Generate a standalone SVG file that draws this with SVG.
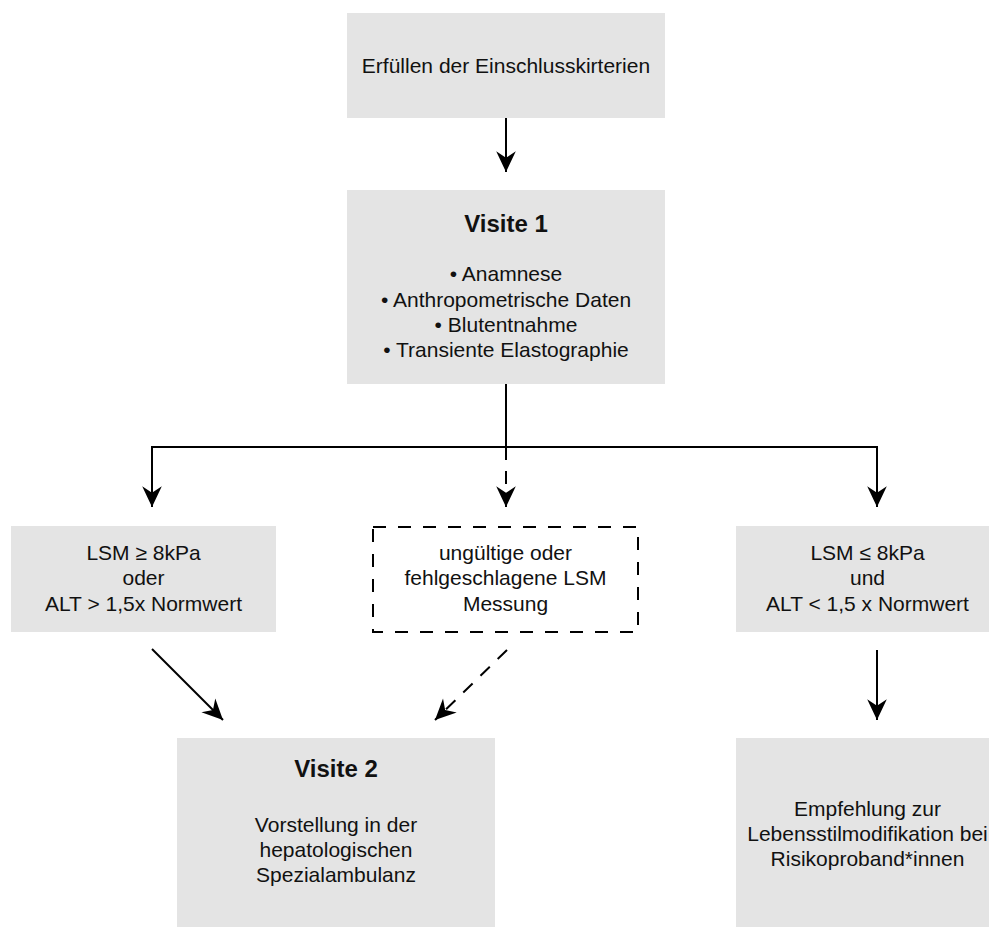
<svg xmlns="http://www.w3.org/2000/svg" width="989" height="927" viewBox="0 0 989 927">
<style>
.box{fill:#e4e4e4;stroke:none}
.dbox{fill:none;stroke:#000;stroke-width:2;stroke-dasharray:13 12}
.t{font-family:"Liberation Sans",Arial,sans-serif;font-size:21px;fill:#111;text-anchor:middle}
.h{font-family:"Liberation Sans",Arial,sans-serif;font-size:24px;font-weight:bold;fill:#111;text-anchor:middle}
.ln{fill:none;stroke:#000;stroke-width:2}
.dl{fill:none;stroke:#000;stroke-width:2;stroke-dasharray:13 11}
</style>
<defs>
<marker id="arr" markerUnits="userSpaceOnUse" markerWidth="24" markerHeight="24" viewBox="-20 -10 22 20" refX="0" refY="0" orient="auto">
<path d="M0,0 L-19,-9 L-13,0 L-19,9 Z" fill="#000"/>
</marker>
</defs>
<rect width="989" height="927" fill="#fff"/>
<g id="connectors">
<line class="ln" x1="506" y1="118" x2="506" y2="172" marker-end="url(#arr)"/>
<polyline class="ln" points="506,384 506,447"/>
<polyline class="ln" points="152,507 152,447 877,447 877,507" marker-end="url(#arr)"/>
<line class="ln" x1="152" y1="447" x2="152" y2="507" marker-end="url(#arr)"/>
<line class="dl" x1="506" y1="447" x2="506" y2="507" marker-end="url(#arr)"/>
<line class="ln" x1="152" y1="649" x2="223" y2="720" marker-end="url(#arr)"/>
<line class="dl" x1="507" y1="650" x2="435" y2="720" marker-end="url(#arr)"/>
<line class="ln" x1="877" y1="650" x2="877" y2="720" marker-end="url(#arr)"/>
</g>
<g id="einschluss">
<rect class="box" x="347" y="13" width="318" height="105"/>
<text class="t" x="506" y="73">Erfüllen der Einschlusskirterien</text>
</g>
<g id="visite1">
<rect class="box" x="347" y="190" width="318" height="194"/>
<text class="h" x="506" y="232">Visite 1</text>
<text class="t" x="506" y="281">• Anamnese</text>
<text class="t" x="506" y="307">• Anthropometrische Daten</text>
<text class="t" x="506" y="332">• Blutentnahme</text>
<text class="t" x="506" y="357">• Transiente Elastographie</text>
</g>
<g id="lsm-hoch">
<rect class="box" x="11" y="526" width="265" height="106"/>
<text class="t" x="143.5" y="560">LSM ≥ 8kPa</text>
<text class="t" x="143.5" y="585">oder</text>
<text class="t" x="143.5" y="611">ALT &gt; 1,5x Normwert</text>
</g>
<g id="ungueltig">
<rect class="dbox" x="373" y="527" width="265" height="105"/>
<text class="t" x="505.5" y="560">ungültige oder</text>
<text class="t" x="505.5" y="585">fehlgeschlagene LSM</text>
<text class="t" x="505.5" y="611">Messung</text>
</g>
<g id="lsm-niedrig">
<rect class="box" x="736" y="526" width="265" height="106"/>
<text class="t" x="867.5" y="560">LSM ≤ 8kPa</text>
<text class="t" x="867.5" y="585">und</text>
<text class="t" x="867.5" y="611">ALT &lt; 1,5 x Normwert</text>
</g>
<g id="visite2">
<rect class="box" x="177" y="738" width="318" height="192"/>
<text class="h" x="336" y="777">Visite 2</text>
<text class="t" x="336" y="832">Vorstellung in der</text>
<text class="t" x="336" y="857">hepatologischen</text>
<text class="t" x="336" y="882">Spezialambulanz</text>
</g>
<g id="empfehlung">
<rect class="box" x="736" y="738" width="265" height="192"/>
<text class="t" x="867.5" y="816">Empfehlung zur</text>
<text class="t" x="867.5" y="841">Lebensstilmodifikation bei</text>
<text class="t" x="867.5" y="866">Risikoproband*innen</text>
</g>
</svg>
